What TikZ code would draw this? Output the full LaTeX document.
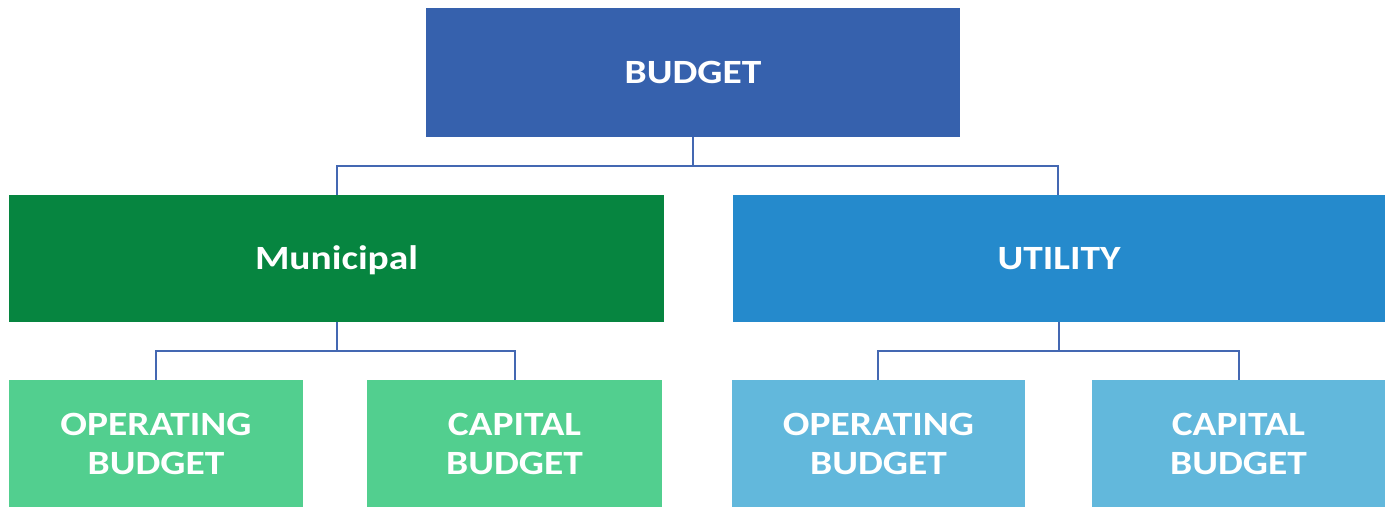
\documentclass[tikz,border=0pt]{standalone}
\usepackage{fontspec}
\setmainfont{Carlito}[FakeStretch=1.16]
\definecolor{topblue}{HTML}{3661AD}
\definecolor{darkgreen}{HTML}{068540}
\definecolor{midblue}{HTML}{258ACC}
\definecolor{lightgreen}{HTML}{52CF8F}
\definecolor{lightblue}{HTML}{62B8DC}
\definecolor{linkblue}{HTML}{4468B2}
\begin{document}
\begin{tikzpicture}[x=1pt,y=1pt,
  box/.style={inner sep=0pt, outer sep=0pt, text=white, align=center,
    font=\fontsize{34}{39}\selectfont\bfseries},
  link/.style={draw=linkblue, line width=2.3pt}]
\useasboundingbox (0,0) rectangle (1393,508);
% boxes: fill a rectangle, then a named node over it
\newcommand{\boxat}[6]{%
  \fill[#5] (#1,{508-#2}) rectangle (#3,{508-#4});
  \node[box] (#6) at ({(#1+#3)/2},{508-(#2+#4)/2}) {};}
\boxat{426}{8}{960}{137}{topblue}{budget}
\boxat{9}{195}{664}{322}{darkgreen}{muni}
\boxat{733}{195}{1385}{322}{midblue}{util}
\boxat{9}{380}{303}{507}{lightgreen}{mop}
\boxat{367}{380}{662}{507}{lightgreen}{mcap}
\boxat{732}{380}{1025}{507}{lightblue}{uop}
\boxat{1092}{380}{1385}{507}{lightblue}{ucap}
% labels
\node[box] at (budget) {BUDGET};
\node[box] at ([yshift=-2pt]muni) {Municipal};
\node[box] at (util) {UTILITY};
\node[box] at (mop) {OPERATING\\BUDGET};
\node[box] at (mcap) {CAPITAL\\BUDGET};
\node[box] at (uop) {OPERATING\\BUDGET};
\node[box] at (ucap) {CAPITAL\\BUDGET};
% anchor points on the box edges
\coordinate (budgetS) at (693,{508-137});
\coordinate (muniN) at (337,{508-195});
\coordinate (utilN) at (1058,{508-195});
\coordinate (muniS) at (337,{508-322});
\coordinate (utilS) at (1059,{508-322});
\coordinate (mopN) at (156,{508-380});
\coordinate (mcapN) at (515,{508-380});
\coordinate (uopN) at (878,{508-380});
\coordinate (ucapN) at (1239,{508-380});
% connectors
\draw[link] (budgetS) -- (693,{508-166});
\draw[link] (muniN) -- (337,{508-166}) -- (1058,{508-166}) -- (utilN);
\draw[link] (muniS) -- (337,{508-351});
\draw[link] (mopN) -- (156,{508-351}) -- (515,{508-351}) -- (mcapN);
\draw[link] (utilS) -- (1059,{508-351});
\draw[link] (uopN) -- (878,{508-351}) -- (1239,{508-351}) -- (ucapN);
\end{tikzpicture}
\end{document}
